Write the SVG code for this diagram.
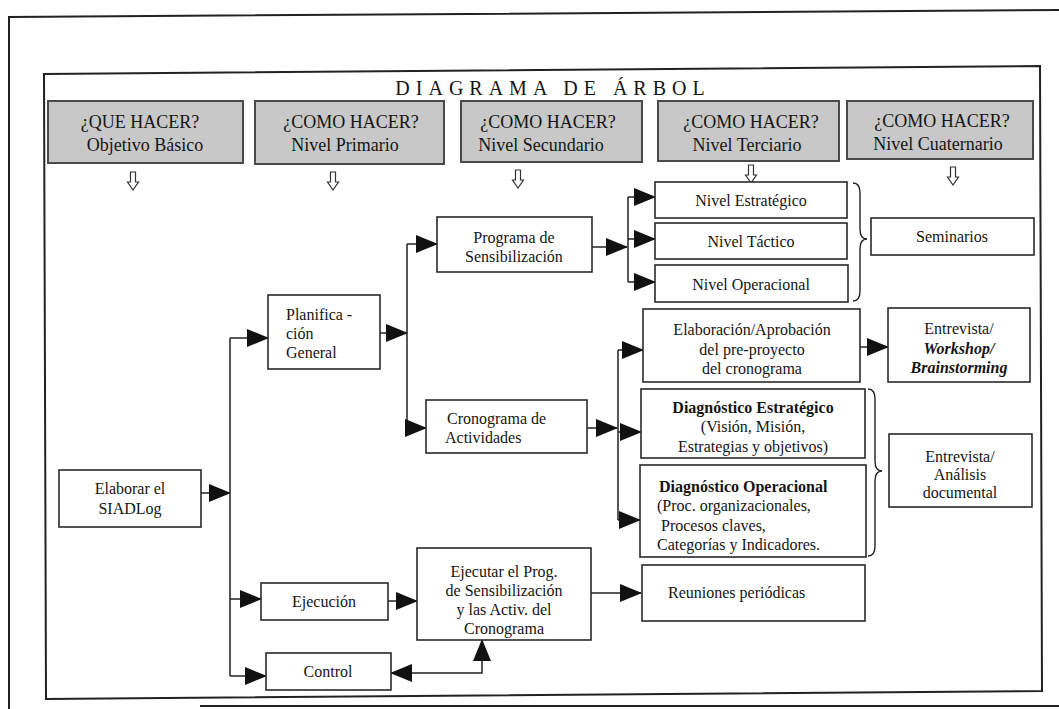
<svg xmlns="http://www.w3.org/2000/svg" xmlns:xlink="http://www.w3.org/1999/xlink" width="1059" height="709" viewBox="0 0 1059 709">
<style>
text{font-family:"Liberation Serif","Times New Roman",serif;fill:#151515}
.title{font-size:20px;letter-spacing:6px;text-anchor:middle}
.h{font-size:18px;text-anchor:middle}
.t{font-size:16px;text-anchor:middle}
.l{font-size:16px;text-anchor:start}
.b{font-weight:bold}
.bi{font-weight:bold;font-style:italic}
.hbox{fill:#c8c8c8;stroke:#4a4a4a;stroke-width:2}
.box{fill:#fff;stroke:#2a2a2a;stroke-width:1.6}
.frame{fill:none;stroke:#222;stroke-width:2}
.con{fill:none;stroke:#222;stroke-width:1.5}
.arr{marker-end:url(#ah)}
.brace{fill:none;stroke:#222;stroke-width:1.4}
.down{fill:#fff;stroke:#333;stroke-width:1.2}
</style>
<defs>
<marker id="ah" markerUnits="userSpaceOnUse" markerWidth="22" markerHeight="18" refX="21" refY="9" orient="auto-start-reverse">
<path d="M0,0 L22,9 L0,18 Z" fill="#111"/>
</marker>
<path id="dn" class="down" d="M-2.5,0 H2.5 V10 H5.5 L0,18 L-5.5,10 H-2.5 Z"/>
</defs>
<rect width="1059" height="709" fill="#fff"/>
<g id="frames">
<path class="frame" d="M9,709 V17 L1059,10"/>
<path class="frame" d="M200,706 H1059"/>
<path class="frame" d="M44,74 L1040,66 L1042,691 L46,699 Z"/>
</g>
<text class="title" x="553" y="95">DIAGRAMA DE ÁRBOL</text>
<g id="headers">
<g id="h1"><rect class="hbox" x="48" y="101" width="195" height="62"/><text class="h" x="140" y="128">¿QUE HACER?</text><text class="h" x="145" y="151">Objetivo Básico</text></g>
<g id="h2"><rect class="hbox" x="255" y="101" width="189" height="63"/><text class="h" x="351" y="128">¿COMO HACER?</text><text class="h" x="345" y="151">Nivel  Primario</text></g>
<g id="h3"><rect class="hbox" x="461" y="101" width="181" height="61"/><text class="h" x="548" y="128">¿COMO HACER?</text><text class="h" x="541" y="151">Nivel Secundario</text></g>
<g id="h4"><rect class="hbox" x="658" y="101" width="181" height="60"/><text class="h" x="751" y="128">¿COMO HACER?</text><text class="h" x="747" y="151">Nivel  Terciario</text></g>
<g id="h5"><rect class="hbox" x="847" y="101" width="186" height="58"/><text class="h" x="942" y="127">¿COMO HACER?</text><text class="h" x="938" y="150">Nivel Cuaternario</text></g>
</g>
<g id="downarrows">
<use xlink:href="#dn" x="133" y="172"/>
<use xlink:href="#dn" x="333" y="172"/>
<use xlink:href="#dn" x="518" y="170"/>
<use xlink:href="#dn" x="751" y="165"/>
<use xlink:href="#dn" x="953" y="167"/>
</g>
<g id="connectors">
<path class="con arr" d="M201,493 H230"/>
<path class="con" d="M230,338 V676"/>
<path class="con arr" d="M230,338 H268"/>
<path class="con arr" d="M230,599 H261"/>
<path class="con arr" d="M230,676 H266"/>
<path class="con arr" d="M380,333 H407"/>
<path class="con" d="M407,244 V428"/>
<path class="con arr" d="M407,244 H437"/>
<path class="con arr" d="M407,428 H426"/>
<path class="con arr" d="M592,247 H627"/>
<path class="con" d="M628,197 V282"/>
<path class="con arr" d="M628,197 H655"/>
<path class="con arr" d="M628,239 H655"/>
<path class="con arr" d="M628,282 H655"/>
<path class="con arr" d="M587,428 H617"/>
<path class="con" d="M618,350 V520"/>
<path class="con arr" d="M618,350 H643"/>
<path class="con arr" d="M618,432 H641"/>
<path class="con arr" d="M618,520 H640"/>
<path class="con arr" d="M860,347 H888"/>
<path class="con arr" d="M388,601 H417"/>
<path class="con arr" d="M591,593 H641"/>
<path class="con" d="M391,673 H482 V640" marker-start="url(#ah)" marker-end="url(#ah)"/>
<path class="brace" d="M853,183 Q860,183 860,193 V229 Q860,239 867,239 Q860,239 860,249 V291 Q860,301 853,301"/>
<path class="brace" d="M868,389 Q875,389 875,399 V461 Q875,471 882,471 Q875,471 875,481 V546 Q875,556 868,556"/>
</g>
<g id="n-elaborar"><rect class="box" x="59" y="470" width="142" height="57"/><text class="t" x="130" y="494">Elaborar el</text><text class="t" x="130" y="514">SIADLog</text></g>
<g id="n-planificacion"><rect class="box" x="268" y="295" width="112" height="74"/><text class="l" x="286" y="320">Planifica -</text><text class="l" x="286" y="339">ción</text><text class="l" x="286" y="358">General</text></g>
<g id="n-ejecucion"><rect class="box" x="261" y="583" width="127" height="37"/><text class="t" x="324" y="607">Ejecución</text></g>
<g id="n-control"><rect class="box" x="266" y="653" width="125" height="37"/><text class="t" x="328" y="677">Control</text></g>
<g id="n-programa"><rect class="box" x="437" y="217" width="155" height="55"/><text class="t" x="514" y="243">Programa de</text><text class="t" x="514" y="262">Sensibilización</text></g>
<g id="n-cronograma"><rect class="box" x="426" y="400" width="161" height="53"/><text class="l" x="447" y="424">Cronograma de</text><text class="l" x="445" y="443">Actividades</text></g>
<g id="n-ejecutar"><rect class="box" x="417" y="548" width="174" height="92"/><text class="t" x="504" y="577">Ejecutar el Prog.</text><text class="t" x="504" y="596">de Sensibilización</text><text class="t" x="504" y="615">y las Activ. del</text><text class="t" x="504" y="634">Cronograma</text></g>
<g id="n-estrategico"><rect class="box" x="655" y="182" width="192" height="36"/><text class="t" x="751" y="206">Nivel Estratégico</text></g>
<g id="n-tactico"><rect class="box" x="655" y="223" width="192" height="36"/><text class="t" x="751" y="247">Nivel Táctico</text></g>
<g id="n-operacional"><rect class="box" x="655" y="265" width="193" height="37"/><text class="t" x="751" y="290">Nivel Operacional</text></g>
<g id="n-seminarios"><rect class="box" x="871" y="218" width="163" height="37"/><text class="t" x="952" y="242">Seminarios</text></g>
<g id="n-elaboracion"><rect class="box" x="643" y="309" width="217" height="73"/><text class="t" x="752" y="335">Elaboración/Aprobación</text><text class="t" x="752" y="355">del pre-proyecto</text><text class="t" x="752" y="374">del cronograma</text></g>
<g id="n-workshop"><rect class="box" x="888" y="308" width="142" height="74"/><text class="t" x="959" y="334">Entrevista/</text><text class="t bi" x="959" y="354">Workshop/</text><text class="t bi" x="959" y="373">Brainstorming</text></g>
<g id="n-diagest"><rect class="box" x="641" y="389" width="224" height="69"/><text class="t b" x="753" y="413">Diagnóstico Estratégico</text><text class="t" x="753" y="432">(Visión, Misión,</text><text class="t" x="753" y="452">Estrategias y objetivos)</text></g>
<g id="n-diagop"><rect class="box" x="640" y="465" width="226" height="92"/><text class="l b" x="659" y="492">Diagnóstico Operacional</text><text class="l" x="657" y="511">(Proc. organizacionales,</text><text class="l" x="661" y="531">Procesos claves,</text><text class="l" x="657" y="550">Categorías y Indicadores.</text></g>
<g id="n-analisis"><rect class="box" x="889" y="434" width="143" height="73"/><text class="t" x="960" y="462">Entrevista/</text><text class="t" x="960" y="480">Análisis</text><text class="t" x="960" y="498">documental</text></g>
<g id="n-reuniones"><rect class="box" x="642" y="565" width="223" height="56"/><text class="l" x="668" y="598">Reuniones periódicas</text></g>
</svg>
